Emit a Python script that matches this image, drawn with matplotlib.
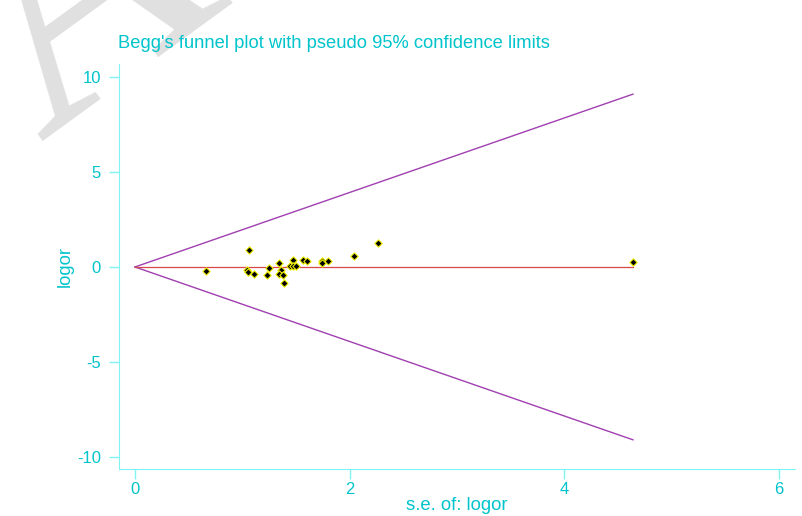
import numpy as np
import matplotlib
matplotlib.use("Agg")
from matplotlib import pyplot as plt

plt.rcParams['font.family'] = ['Liberation Sans', 'DejaVu Sans']
plt.rcParams['axes.unicode_minus'] = False

# standard errors and log odds ratios of the studies
se = [0.66, 1.04, 1.05, 1.06, 1.11, 1.23, 1.25, 1.34, 1.36, 1.34, 1.38, 1.39,
      1.44, 1.47, 1.47, 1.50, 1.57, 1.60, 1.74, 1.74, 1.80, 2.04, 2.26, 4.64]
logor = [-0.19, -0.16, -0.25, 0.88, -0.39, -0.40, -0.07, 0.21, -0.16, -0.39, -0.40, -0.83,
         0.05, 0.37, 0.07, 0.07, 0.37, 0.33, 0.32, 0.19, 0.33, 0.56, 1.28, 0.28]
pooled = 0.0

txt = '#00c4cc'
axcol = '#80f4f4'

fig = plt.figure(figsize=(8.03, 5.16), dpi=100)
ax = fig.add_axes([119/803, 47/516, 676/803, 405/516])

# watermark letter, kept behind everything else
fig.text(90/803, 1 - 5/516, 'A', fontsize=240, family='Liberation Serif', color='#e0e0e0',
         rotation=36, ha='center', va='center', zorder=-5)

smax = max(se)
xs = np.array([0, smax])
ax.plot(xs, pooled + 1.96 * xs, color='#a040b0', lw=1)
ax.plot(xs, pooled - 1.96 * xs, color='#a040b0', lw=1)
ax.plot(xs, [pooled, pooled], color='#d84848', lw=0.9)
ax.scatter(se, logor, marker='D', s=14, c='black', edgecolors='#f0f000', linewidths=0.8, zorder=3)

ax.set_xlim(-0.149, 6.15)
ax.set_ylim(-10.63, 10.68)
ax.set_xticks([0, 2, 4, 6])
ax.set_yticks([-10, -5, 0, 5, 10])
for s in ['top', 'right']:
    ax.spines[s].set_visible(False)
for s in ['left', 'bottom']:
    ax.spines[s].set_color(axcol)
ax.tick_params(colors=axcol, labelcolor=txt, labelsize=12, length=7, width=1)
ax.tick_params(axis='y', pad=6)
ax.tick_params(axis='x', pad=2)
ax.patch.set_alpha(0)

ax.set_xlabel('s.e. of: logor', color=txt, fontsize=13.3, labelpad=0)
ax.set_ylabel('logor', color=txt, fontsize=13.3, labelpad=2)
fig.text(118/803, 1 - 43/516, "Begg's funnel plot with pseudo 95% confidence limits",
         color=txt, fontsize=13.2, ha='left', va='center')

fig.savefig('out.png', dpi=100)
